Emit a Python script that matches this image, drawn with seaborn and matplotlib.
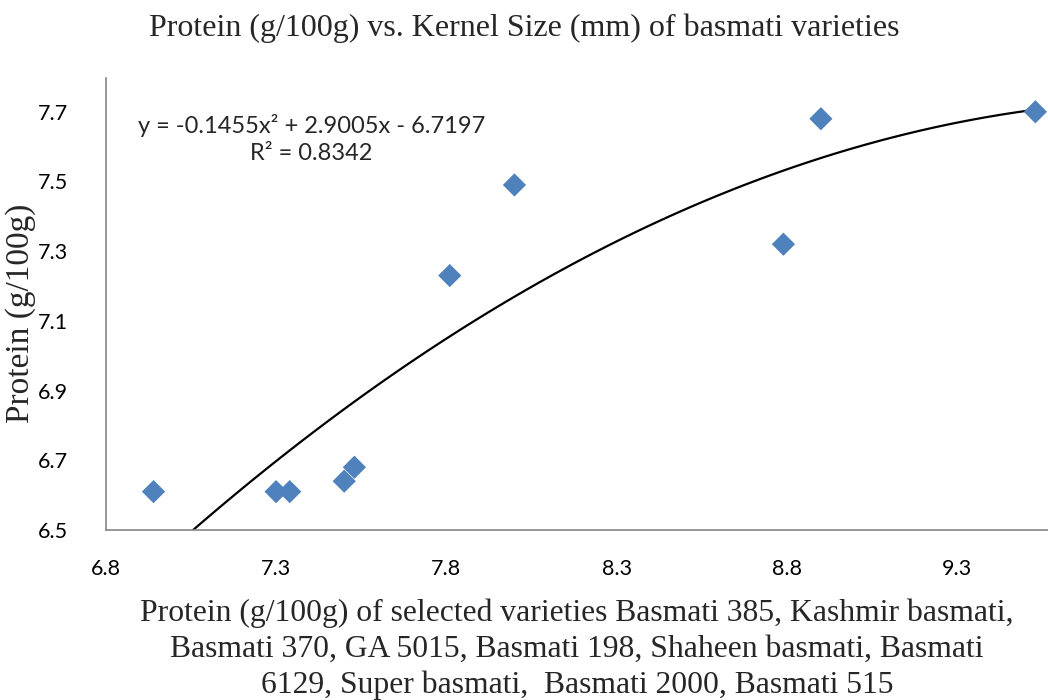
import matplotlib
matplotlib.use("Agg")
import matplotlib.pyplot as plt
import seaborn as sns
import pandas as pd

# Data
kernel_size = [6.94, 7.30, 7.34, 7.50, 7.53, 7.81, 8.00, 8.79, 8.90, 9.53]
protein = [6.61, 6.61, 6.61, 6.64, 6.68, 7.23, 7.49, 7.32, 7.68, 7.70]
y_ticks = [6.5, 6.7, 6.9, 7.1, 7.3, 7.5, 7.7]
x_ticks = [6.8, 7.3, 7.8, 8.3, 8.8, 9.3]
equation_text = "y = -0.1455x\u00b2 + 2.9005x - 6.7197\nR\u00b2 = 0.8342"
title_text = "Protein (g/100g) vs. Kernel Size (mm) of basmati varieties"
xlabel_text = ("Protein (g/100g) of selected varieties Basmati 385, Kashmir basmati,\n"
               "Basmati 370, GA 5015, Basmati 198, Shaheen basmati, Basmati\n"
               "6129, Super basmati,  Basmati 2000, Basmati 515")
ylabel_text = "Protein (g/100g)"

df = pd.DataFrame({"x": kernel_size, "y": protein})

sns.set_theme(style="white")
plt.rcParams["font.family"] = ["Lato", "DejaVu Sans"]

fig = plt.figure(figsize=(10.48, 7.0), dpi=100)
ax = fig.add_axes([0.101, 0.2429, 0.899, 0.6457])

sns.regplot(data=df, x="x", y="y", order=2, ci=None, scatter=False, ax=ax,
            line_kws={"color": "black", "lw": 1.6})
sns.scatterplot(data=df, x="x", y="y", marker="D", s=140, color="#4F81BD",
                edgecolor="none", ax=ax, zorder=3, clip_on=False)

ax.set_xlim(6.8, 9.567)
ax.set_ylim(6.5, 7.797)
ax.set_xticks(x_ticks)
ax.set_yticks(y_ticks)
ax.set_xticklabels([f"{v:.1f}" for v in x_ticks])
ax.set_yticklabels([f"{v:.1f}" for v in y_ticks])

for s in ["top", "right"]:
    ax.spines[s].set_visible(False)
for s in ["left", "bottom"]:
    ax.spines[s].set_color("#868686")
    ax.spines[s].set_linewidth(1.2)

ax.tick_params(axis="both", which="major", direction="out", length=7, width=1.2,
               color="#868686", labelsize=15.5, labelcolor="black")
ax.tick_params(axis="y", pad=20)
ax.tick_params(axis="x", pad=14)
ax.grid(False)

serif = ["Liberation Serif", "DejaVu Serif"]
ax.set_xlabel(xlabel_text, family=serif, fontsize=22.8, labelpad=14, linespacing=1.3)
ax.set_ylabel(ylabel_text, family=serif, fontsize=24)
ax.yaxis.set_label_coords(-0.074, 0.48)
fig.text(0.5, 0.96, title_text, family=serif, fontsize=23, ha="center", va="center")

ax.text(0.218, 0.92, equation_text, transform=ax.transAxes, ha="center", va="top",
        fontsize=17, multialignment="center", linespacing=1.35)

fig.savefig("out.png", dpi=100)
